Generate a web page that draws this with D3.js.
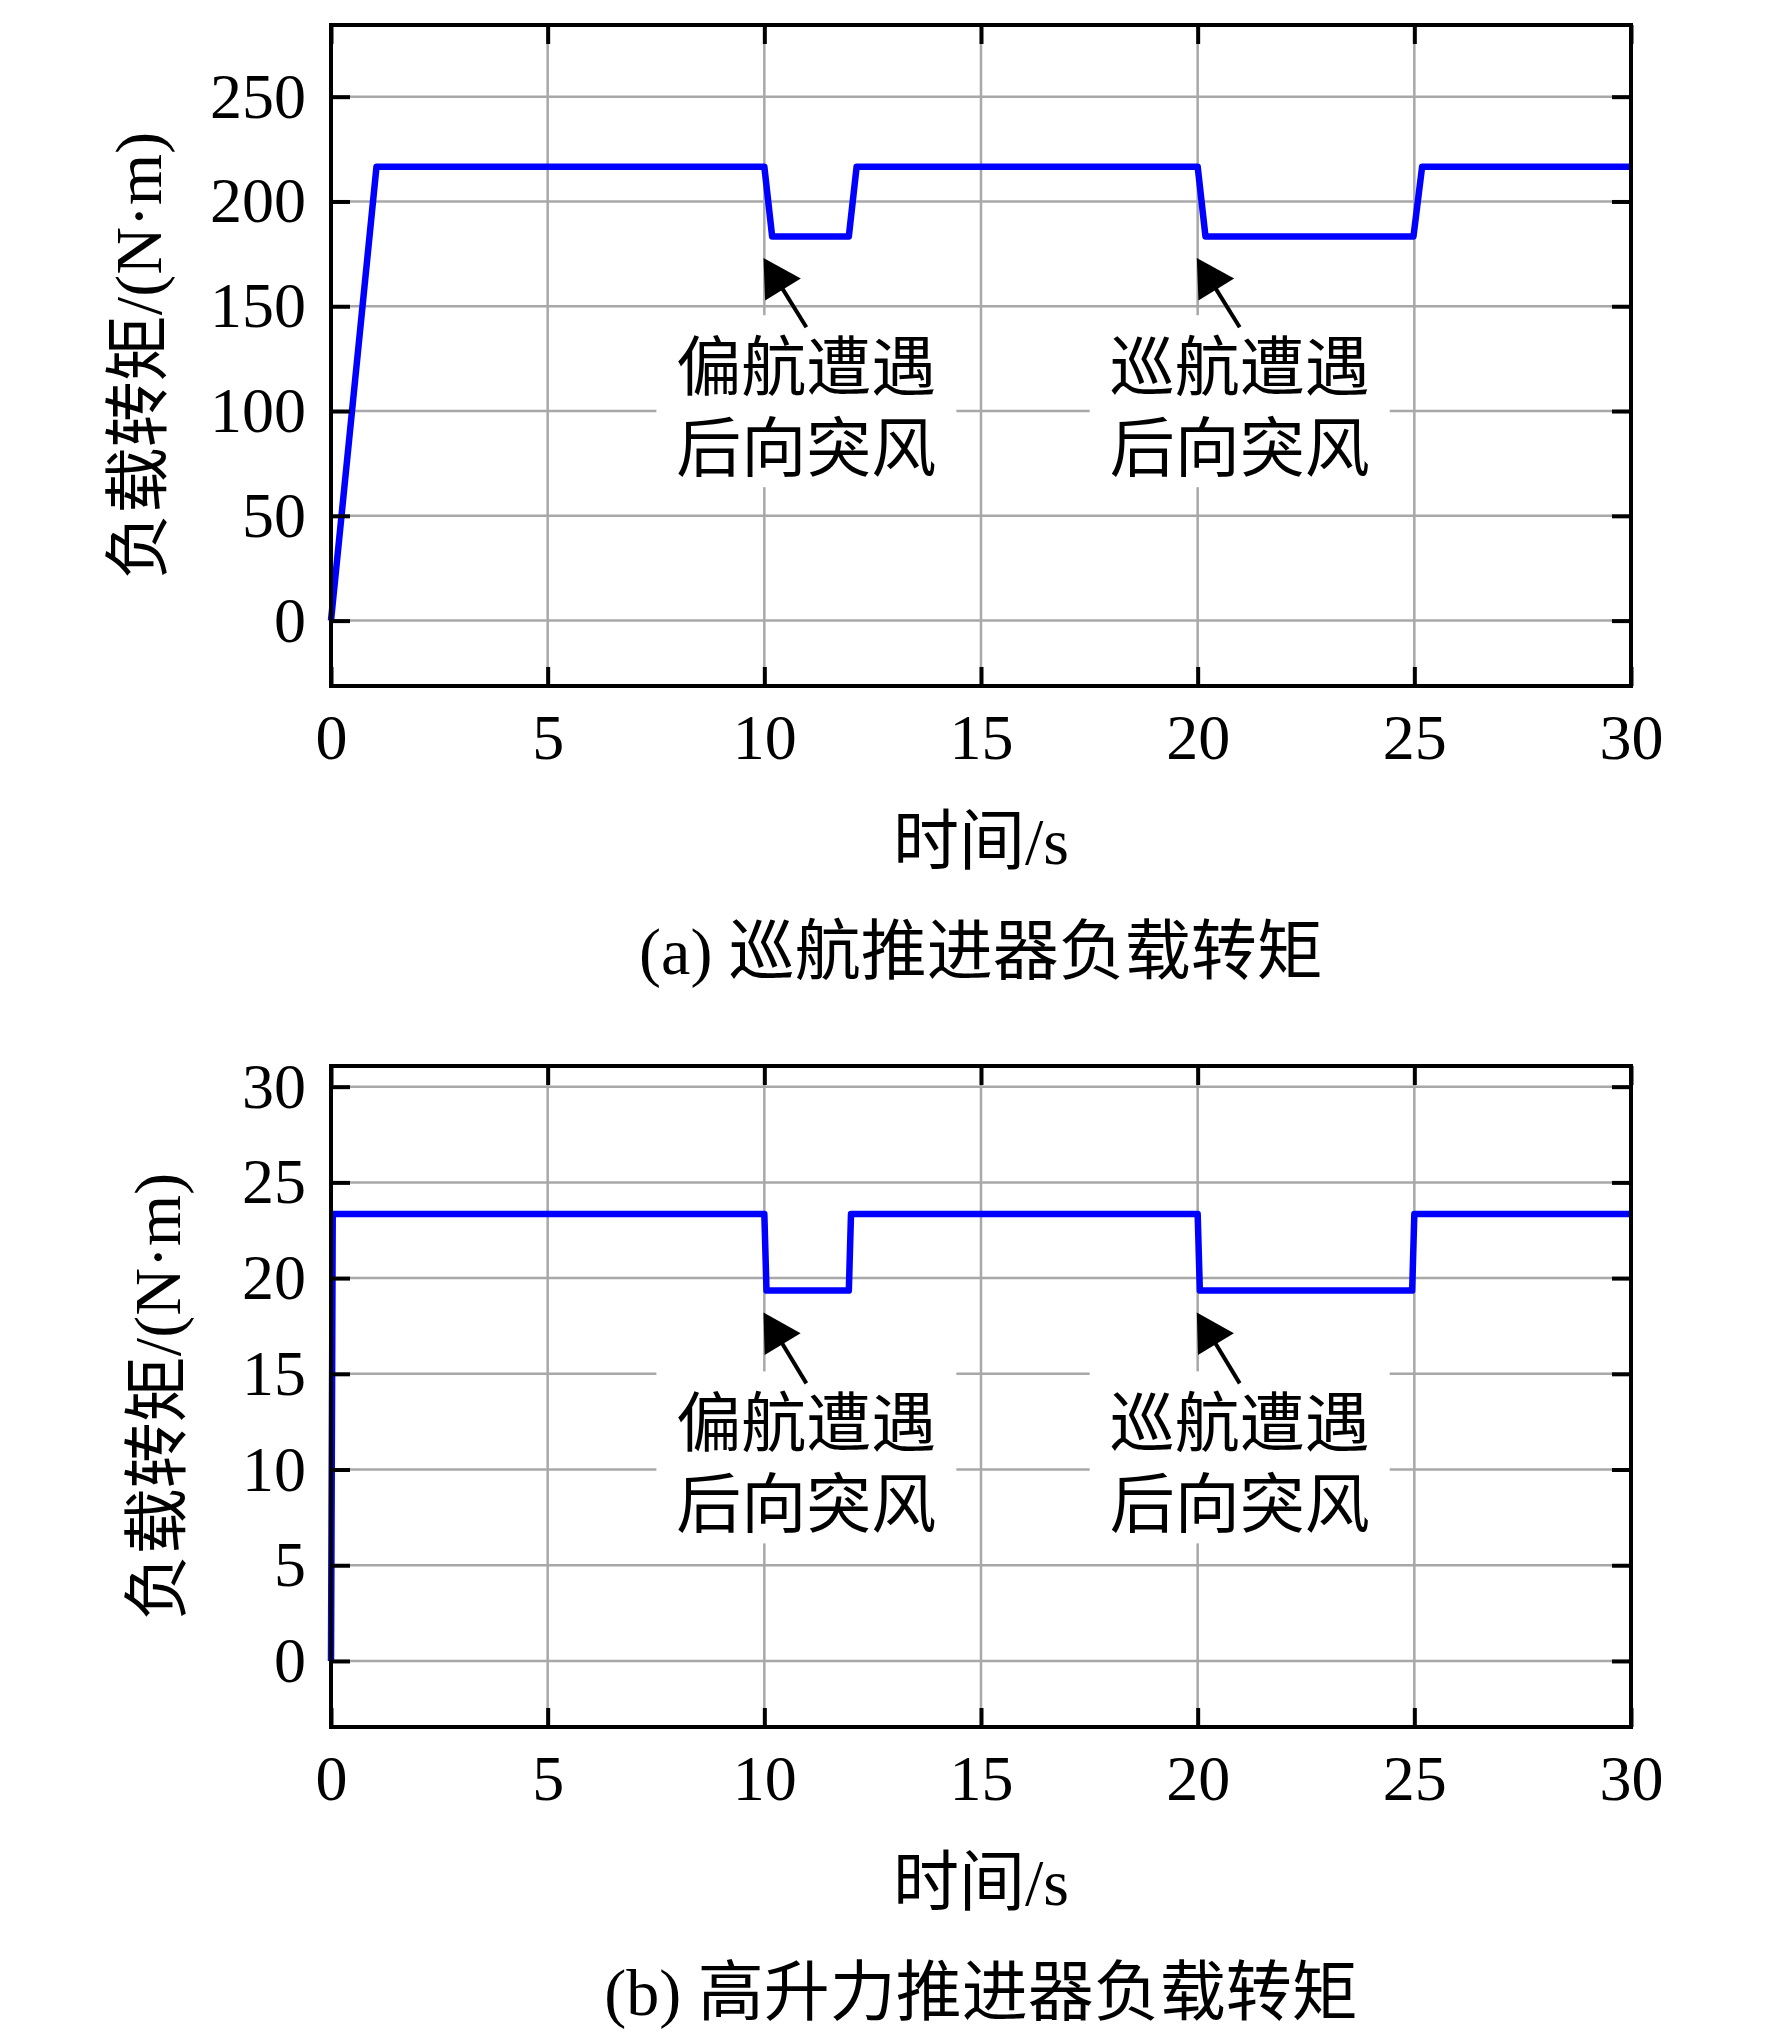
<!DOCTYPE html>
<html>
<head>
<meta charset="utf-8">
<script src="https://cdn.jsdelivr.net/npm/d3@7"></script>
<style>
  html, body { margin: 0; padding: 0; background: #fff; }
  svg text { font-family: "Liberation Serif", "Times New Roman", "Noto Sans CJK SC", serif; fill: #000; }
</style>
</head>
<body>
<svg id="chart" width="1772" height="2035"></svg>
<script>
// values
const timeA   = [0, 1.05, 10.0, 10.18, 11.95, 12.13, 20.0, 20.18, 24.98, 25.18, 30];
const torqueA = [0, 216.6, 216.6, 183.3, 183.3, 216.6, 216.6, 183.3, 183.3, 216.6, 216.6];
const timeB   = [0, 0.04, 10.0, 10.05, 11.95, 12.0, 20.0, 20.05, 24.95, 25.0, 30];
const torqueB = [0, 23.35, 23.35, 19.35, 19.35, 23.35, 23.35, 19.35, 19.35, 23.35, 23.35];

const xTicks  = [0, 5, 10, 15, 20, 25, 30];
const yTicksA = [0, 50, 100, 150, 200, 250];
const yTicksB = [0, 5, 10, 15, 20, 25, 30];
const xDomain  = [0, 30];
const yDomainA = [-31.2, 284.2];
const yDomainB = [-3.45, 31.08];

const yLabel = "负载转矩/(N·m)";
const xLabel = "时间/s";
const captions = ["(a) 巡航推进器负载转矩", "(b) 高升力推进器负载转矩"];

// annotations: arrow tip / tail in data units, two text lines
const noteLines = [["偏航遭遇", "后向突风"], ["巡航遭遇", "后向突风"]];
const noteTipT  = [9.98, 19.98];
const noteTailT = [10.97, 20.97];
const noteTipA  = [173, 173];
const noteTailA = [140, 140];
const noteTipB  = [18.2, 18.2];
const noteTailB = [14.5, 14.5];

const svg = d3.select("#chart");
const left = 331, right = 1631;

function drawPanel(cfg) {
  let x = d3.scaleLinear().domain(xDomain).range([left, right]);
  let y = d3.scaleLinear().domain(cfg.yDomain).range([cfg.bottom, cfg.top]);
  let g = svg.append("g");

  // grid
  g.append("g").selectAll("line").data(xTicks).enter().append("line")
    .attr("x1", d => x(d)).attr("x2", d => x(d))
    .attr("y1", cfg.top).attr("y2", cfg.bottom)
    .attr("stroke", "#a8a8a8").attr("stroke-width", 2.5);
  g.append("g").selectAll("line").data(cfg.yTicks).enter().append("line")
    .attr("x1", left).attr("x2", right)
    .attr("y1", d => y(d)).attr("y2", d => y(d))
    .attr("stroke", "#a8a8a8").attr("stroke-width", 2.5);

  // white boxes behind the annotation text
  noteLines.forEach(function(lines, i) {
    let cx = x(noteTailT[i]);
    let ty = y(cfg.tailVals[i]);
    g.append("rect")
      .attr("x", cx - 150).attr("y", ty - 12)
      .attr("width", 300).attr("height", 172)
      .attr("fill", "#fff");
  });

  // curve
  let pts = cfg.time.map((t, i) => [t, cfg.torque[i]]);
  g.append("path").datum(pts)
    .attr("fill", "none").attr("stroke", "#0000ff")
    .attr("stroke-width", 6.5).attr("stroke-linejoin", "round")
    .attr("d", d3.line().x(d => x(d[0])).y(d => y(d[1])));

  // arrows + text
  noteLines.forEach(function(lines, i) {
    let tx = x(noteTipT[i]), ty = y(cfg.tipVals[i]);
    let sx = x(noteTailT[i]), sy = y(cfg.tailVals[i]);
    let dx = tx - sx, dy = ty - sy;
    let len = Math.sqrt(dx * dx + dy * dy);
    let ux = dx / len, uy = dy / len;
    let headL = 37, headW = 21;
    let bx = tx - ux * headL, by = ty - uy * headL;
    g.append("line")
      .attr("x1", sx).attr("y1", sy).attr("x2", bx + ux * 4).attr("y2", by + uy * 4)
      .attr("stroke", "#000").attr("stroke-width", 4);
    g.append("path")
      .attr("d", `M${tx},${ty}L${bx - uy * headW},${by + ux * headW}L${bx + uy * headW},${by - ux * headW}Z`)
      .attr("fill", "#000");
    g.append("text")
      .attr("x", sx).attr("y", sy + 63)
      .attr("text-anchor", "middle").attr("font-size", 65)
      .text(lines[0]);
    g.append("text")
      .attr("x", sx).attr("y", sy + 144)
      .attr("text-anchor", "middle").attr("font-size", 65)
      .text(lines[1]);
  });

  // axes: inward ticks, labels left and bottom
  let axL = g.append("g").attr("transform", `translate(${left},0)`)
    .call(d3.axisLeft(y).tickValues(cfg.yTicks).tickSize(-19).tickPadding(25).tickFormat(d3.format("d")));
  let axR = g.append("g").attr("transform", `translate(${right},0)`)
    .call(d3.axisRight(y).tickValues(cfg.yTicks).tickSize(-19).tickFormat(""));
  let axB = g.append("g").attr("transform", `translate(0,${cfg.bottom})`)
    .call(d3.axisBottom(x).tickValues(xTicks).tickSize(-19).tickPadding(28).tickFormat(d3.format("d")));
  let axT = g.append("g").attr("transform", `translate(0,${cfg.top})`)
    .call(d3.axisTop(x).tickValues(xTicks).tickSize(-19).tickFormat(""));
  [axL, axR, axB, axT].forEach(function(a) {
    a.select(".domain").remove();
    a.selectAll(".tick line").attr("stroke", "#000").attr("stroke-width", 4);
    a.selectAll(".tick text").attr("font-size", 64)
      .style("font-family", '"Liberation Serif", "Times New Roman", serif');
  });

  // frame
  g.append("rect")
    .attr("x", left).attr("y", cfg.top)
    .attr("width", right - left).attr("height", cfg.bottom - cfg.top)
    .attr("fill", "none").attr("stroke", "#000").attr("stroke-width", 4);

  // labels
  g.append("text")
    .attr("transform", `translate(${cfg.yLabelX},${(cfg.top + cfg.bottom) / 2}) rotate(-90)`)
    .attr("text-anchor", "middle").attr("dy", "0.35em").attr("font-size", 66)
    .text(yLabel);
  g.append("text")
    .attr("x", (left + right) / 2).attr("y", cfg.bottom + 178)
    .attr("text-anchor", "middle").attr("font-size", 66)
    .text(xLabel);
  g.append("text")
    .attr("x", (left + right) / 2).attr("y", cfg.bottom + 288)
    .attr("text-anchor", "middle").attr("font-size", 66)
    .text(cfg.caption);
}

drawPanel({
  top: 25, bottom: 686, yDomain: yDomainA, yTicks: yTicksA,
  time: timeA, torque: torqueA, tipVals: noteTipA, tailVals: noteTailA,
  yLabelX: 138, caption: captions[0]
});
drawPanel({
  top: 1066, bottom: 1727, yDomain: yDomainB, yTicks: yTicksB,
  time: timeB, torque: torqueB, tipVals: noteTipB, tailVals: noteTailB,
  yLabelX: 157, caption: captions[1]
});
</script>
</body>
</html>
